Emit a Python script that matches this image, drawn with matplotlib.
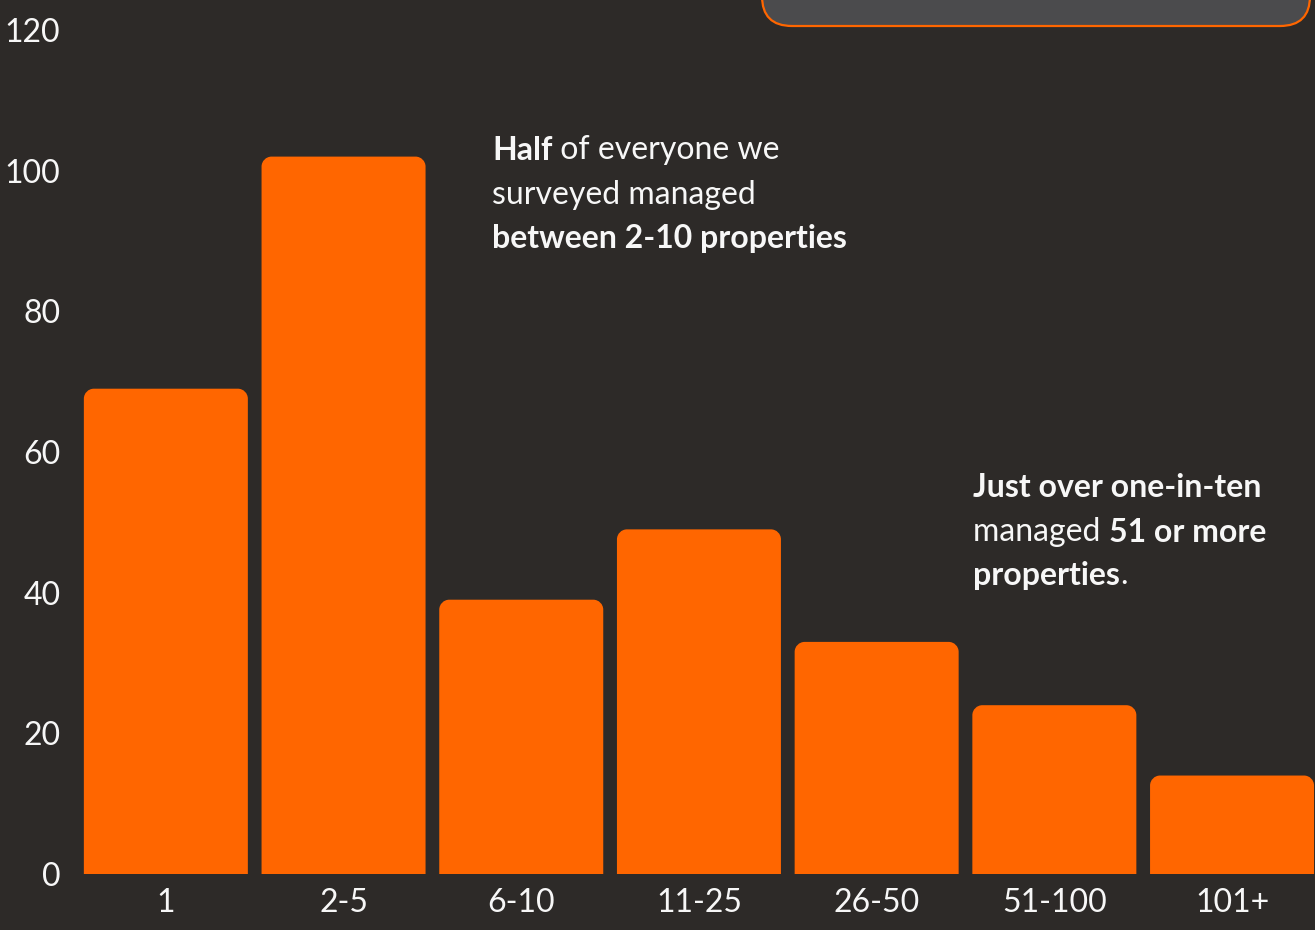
import matplotlib
matplotlib.use("Agg")
import matplotlib.pyplot as plt
from matplotlib.path import Path
from matplotlib.patches import PathPatch, FancyBboxPatch

# Number of properties managed vs. number of respondents
categories = ["1", "2-5", "6-10", "11-25", "26-50", "51-100", "101+"]
counts = [69, 102, 39, 49, 33, 24, 14]
y_ticks = [0, 20, 40, 60, 80, 100, 120]

BG = "#2d2a28"
ORANGE = "#ff6600"
TEXT = "#f7f7f7"
FONT = "Lato"
FS = 23

W, H = 1315, 930
PITCH = 177.7
fig = plt.figure(figsize=(W / 100, H / 100), dpi=100, facecolor=BG)
ax = fig.add_axes([77 / W, (H - 874) / H, 7 * PITCH / W, 844 / H])
ax.set_facecolor(BG)


def rounded_top(x0, w, h, rx, ry):
    # bar outline with rounded top corners (radii given in data units)
    k = 0.5523
    verts = [
        (x0, 0), (x0, h - ry),
        (x0, h - ry + k * ry), (x0 + rx - k * rx, h), (x0 + rx, h),
        (x0 + w - rx, h),
        (x0 + w - rx + k * rx, h), (x0 + w, h - ry + k * ry), (x0 + w, h - ry),
        (x0 + w, 0), (x0, 0),
    ]
    codes = [Path.MOVETO, Path.LINETO,
             Path.CURVE4, Path.CURVE4, Path.CURVE4,
             Path.LINETO,
             Path.CURVE4, Path.CURVE4, Path.CURVE4,
             Path.LINETO, Path.CLOSEPOLY]
    return Path(verts, codes)


bars = ax.bar(range(len(categories)), counts, width=164 / PITCH, color=ORANGE)
ax.set_xlim(-0.5, len(categories) - 0.5)
ax.set_ylim(0, 120)

# swap square bars for rounded-top versions
rx = 10 / PITCH
ry = 10 / (844 / 120)
for rect in bars:
    rect.set_visible(False)
    p = rounded_top(rect.get_x(), rect.get_width(), rect.get_height(), rx, ry)
    ax.add_patch(PathPatch(p, facecolor=ORANGE, edgecolor="none"))

ax.set_xticks(range(len(categories)))
ax.set_xticklabels(categories)
ax.set_yticks(y_ticks)
ax.tick_params(axis="both", length=0, labelsize=FS, labelcolor=TEXT)
ax.tick_params(axis="y", pad=12)
ax.tick_params(axis="x", pad=10)
for lbl in ax.get_xticklabels() + ax.get_yticklabels():
    lbl.set_fontfamily(FONT)
for s in ax.spines.values():
    s.set_visible(False)

# box peeking in at the top edge
box = FancyBboxPatch((7.62, 9.04), 5.48, 1.2,
                     boxstyle="round,pad=0,rounding_size=0.3",
                     transform=fig.dpi_scale_trans, facecolor="#4b4b4d",
                     edgecolor=ORANGE, linewidth=1.6, zorder=5)
fig.patches.append(box)


def rich_line(x_px, base_px, parts):
    prev = None
    for txt, bold in parts:
        kw = dict(fontsize=FS, color=TEXT, fontfamily=FONT,
                  fontweight="bold" if bold else "normal")
        if prev is None:
            prev = fig.text(x_px / W, (H - base_px) / H, txt, va="baseline", ha="left", **kw)
        else:
            prev = ax.annotate(txt, xy=(1, 0), xycoords=prev, va="bottom", ha="left",
                               annotation_clip=False, **kw)


rich_line(492, 160, [("Half", True), (" of everyone we", False)])
rich_line(492, 204, [("surveyed managed", False)])
rich_line(492, 248, [("between 2-10 properties", True)])

rich_line(973, 497, [("Just over one-in-ten", True)])
rich_line(973, 541, [("managed ", False), ("51 or more", True)])
rich_line(973, 585, [("properties", True), (".", False)])

fig.savefig("out.png", dpi=100, facecolor=BG)
